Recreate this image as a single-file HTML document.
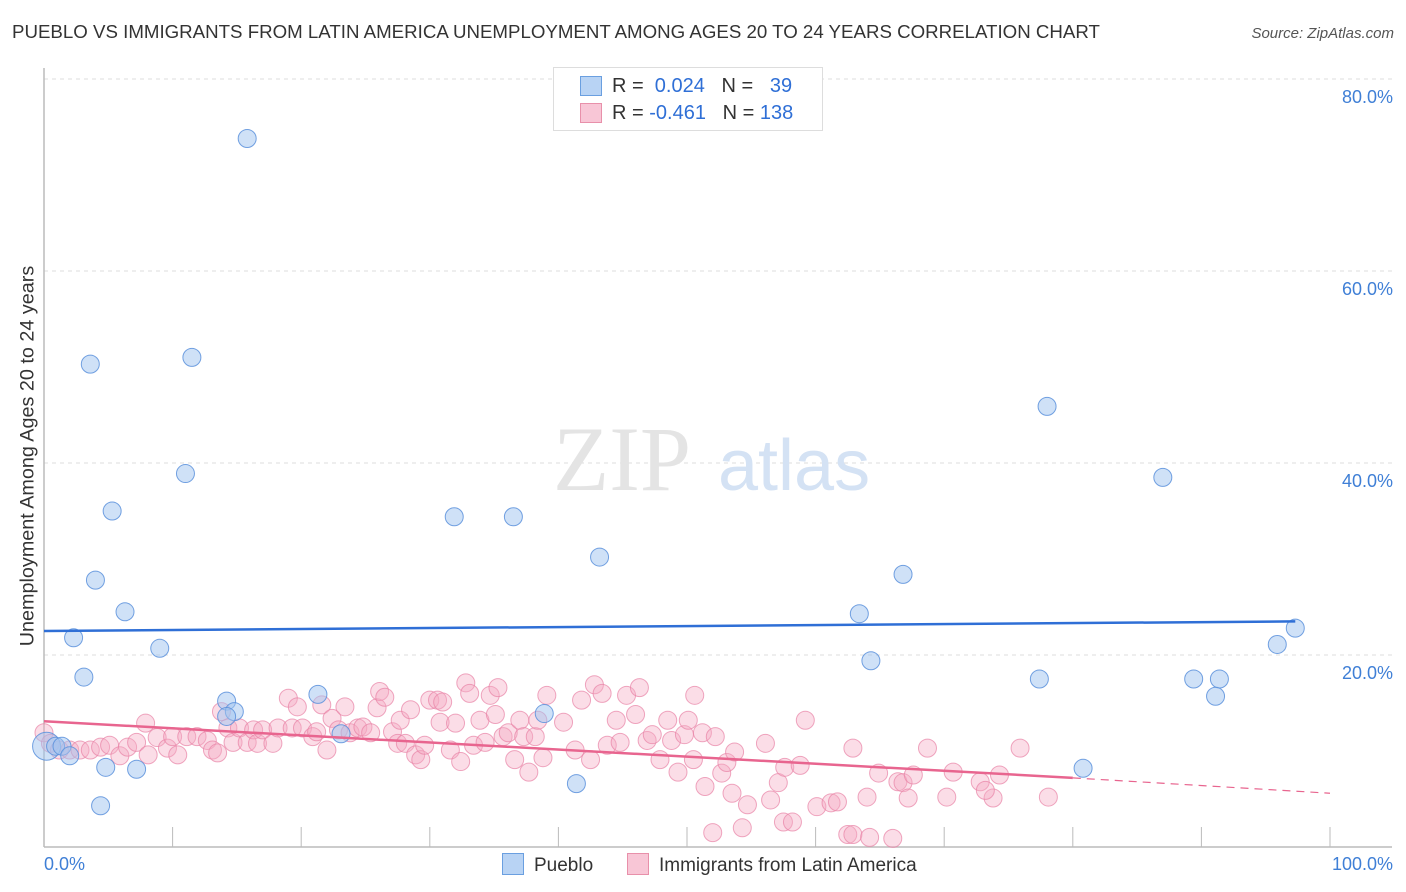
<!DOCTYPE html>
<html><head><meta charset="utf-8">
<style>
body{margin:0;background:#fff;font-family:"Liberation Sans",sans-serif;}
#wrap{position:relative;width:1406px;height:892px;overflow:hidden;}
.t{position:absolute;white-space:nowrap;}
</style></head>
<body>
<div id="wrap">
<div class="t" style="left:12px;top:21px;font-size:18.7px;color:#333;">PUEBLO VS IMMIGRANTS FROM LATIN AMERICA UNEMPLOYMENT AMONG AGES 20 TO 24 YEARS CORRELATION CHART</div>
<div class="t" style="right:12px;top:25px;font-size:15px;color:#555;font-style:italic;">Source: ZipAtlas.com</div>
<div class="t" style="left:28px;top:456px;font-size:19.8px;color:#333;transform:translate(-50%,-50%) rotate(-90deg);">Unemployment Among Ages 20 to 24 years</div>
<svg id="svg" width="1406" height="892" style="position:absolute;left:0;top:0"></svg>
</div>
<script>
const blueX=[0.2,0.9,1.4,2.0,3.6,4.0,3.1,2.3,5.3,6.3,4.8,7.2,4.4,9.0,11.5,11.0,15.8,14.2,14.8,14.2,21.3,23.1,31.9,36.5,38.9,41.4,43.2,63.4,64.3,66.8,78.0,77.4,80.8,87.0,89.4,91.4,91.1,95.9,97.3];
const blueY=[10.5,10.5,10.5,9.5,50.3,27.8,17.7,21.8,35.0,24.5,8.3,8.1,4.3,20.7,51.0,38.9,73.8,15.2,14.1,13.6,15.9,11.8,34.4,34.4,13.9,6.6,30.2,24.3,19.4,28.4,45.9,17.5,8.2,38.5,17.5,17.5,15.7,21.1,22.8];
const pinkX=[0,0.5,1.2,2.0,2.8,3.6,4.4,5.1,5.9,6.5,7.2,7.9,8.1,8.8,9.6,10.0,10.4,11.1,11.9,12.7,13.1,13.5,13.8,14.3,14.7,15.2,15.8,16.3,16.6,17.0,17.8,18.2,19.0,19.3,19.7,20.1,20.9,21.2,21.6,22.0,22.4,22.9,23.4,23.8,24.4,24.8,25.4,25.9,26.1,26.5,27.1,27.5,27.7,28.1,28.5,28.9,29.3,29.6,30.0,30.6,31.0,30.8,31.6,32.0,32.4,32.8,33.1,33.4,33.9,34.3,34.7,35.1,35.3,35.7,36.1,36.6,37.0,37.3,37.7,38.2,38.4,38.8,39.1,40.4,41.3,41.8,42.5,42.8,43.4,43.8,44.5,44.8,45.3,46.0,46.3,46.9,47.3,47.9,48.5,48.8,49.3,49.8,50.1,50.5,50.6,51.2,51.4,52.0,52.2,52.7,53.1,53.5,53.7,54.3,54.7,56.1,56.5,57.1,57.5,57.6,58.2,58.8,59.2,60.1,61.2,61.7,62.5,62.9,62.9,64.0,64.2,64.9,66.0,66.4,66.8,67.2,67.6,68.7,70.2,75.9,72.8,73.8,74.3,78.1,70.7,73.2];
const pinkY=[11.9,10.8,10.1,10.1,10.1,10.1,10.4,10.6,9.5,10.4,10.9,12.9,9.6,11.4,10.3,11.5,9.6,11.5,11.5,11.1,10.1,9.8,14.1,12.4,10.9,12.4,10.9,12.2,10.8,12.2,10.8,12.4,15.5,12.4,14.6,12.4,11.5,12.0,14.8,10.1,13.4,12.2,14.6,11.9,12.4,12.5,11.9,14.5,16.2,15.6,12.0,10.8,13.2,10.8,14.3,9.6,9.1,10.6,15.3,15.3,15.1,13.0,10.1,12.9,8.9,17.1,16.0,10.6,13.2,10.9,15.8,13.8,16.6,11.5,11.9,9.1,13.2,11.5,7.8,11.5,13.2,9.3,15.8,13.0,10.1,15.3,9.1,16.9,16.0,10.6,13.2,10.9,15.8,13.8,16.6,11.1,11.7,9.1,13.2,11.1,7.8,11.7,13.2,9.1,15.8,11.9,6.3,1.5,11.5,7.7,8.8,5.6,9.9,2.0,4.4,10.8,4.9,6.7,2.6,8.3,2.6,8.5,13.2,4.2,4.6,4.7,1.3,10.3,1.3,5.2,1.0,7.7,0.9,6.8,6.7,5.1,7.5,10.3,5.2,10.3,6.8,5.1,7.5,5.2,7.8,5.9];
const yTicks=[20,40,60,80];
const yTickLabels=["20.0%","40.0%","60.0%","80.0%"];
const blueTrend=[22.5,23.5];
const pinkTrend=[13.1,7.2,5.6];

const NS="http://www.w3.org/2000/svg";
const svg=document.getElementById('svg');
const X=v=>44+v*12.86;
const Y=v=>847-v*9.6;
function el(tag,attrs,parent){const e=document.createElementNS(NS,tag);for(const k in attrs)e.setAttribute(k,attrs[k]);(parent||svg).appendChild(e);return e;}

yTicks.forEach((t,i)=>{
  const g=el('line',{x1:44,x2:1392,y1:Y(t),y2:Y(t),stroke:'#dcdcdc','stroke-dasharray':'4,4'});
  
  
  const tx=el('text',{x:1393,y:Y(t)+24,'text-anchor':'end','font-size':18,fill:'#3f7fd6','font-family':'Liberation Sans'});
  tx.textContent=yTickLabels[i];
  
  
});
const ax=el('line',{x1:44,x2:1392,y1:847,y2:847,stroke:'#bbb','stroke-width':1.5});


const ay=el('line',{x1:44,x2:44,y1:68,y2:847,stroke:'#bbb','stroke-width':1.5});


for(let i=1;i<=10;i++){
  const tk=el('line',{x1:X(i*10),x2:X(i*10),y1:827,y2:847,stroke:'#bbb'});
  
  
}
['0.0%','100.0%'].forEach((s,i)=>{
  const t=el('text',{x:i?1393:44,y:870,'text-anchor':i?'end':'start','font-size':18,fill:'#3f7fd6','font-family':'Liberation Sans'});
  t.textContent=s;
  
  
});
const wm=el('text',{x:553,y:490,'font-size':92,fill:'#e4e4e4','font-family':'Liberation Serif'});
wm.textContent='ZIP';


const wm2=el('text',{x:718,y:490,'font-size':72,fill:'#d4e2f4','font-family':'Liberation Sans'});
wm2.textContent='atlas';



pinkX.forEach((x,i)=>{
  const c=el('circle',{cx:X(x),cy:Y(pinkY[i]),r:9,fill:'rgba(246,170,195,0.4)',stroke:'rgba(232,130,165,0.7)','stroke-width':1});
  
  
});
blueX.forEach((x,i)=>{
  const c=el('circle',{cx:X(x),cy:Y(blueY[i]),r:i==0?14:9,fill:'rgba(160,196,240,0.5)',stroke:'rgba(90,145,220,0.85)','stroke-width':1});
  
  
});
const bt=el('line',{x1:X(0),x2:X(97.3),y1:Y(blueTrend[0]),y2:Y(blueTrend[1]),stroke:'#2f6fd6','stroke-width':2.5});


const pt=el('line',{x1:X(0),x2:X(80),y1:Y(pinkTrend[0]),y2:Y(pinkTrend[1]),stroke:'#e8658f','stroke-width':2.5});


const pd=el('line',{x1:X(80),x2:X(100),y1:Y(pinkTrend[1]),y2:Y(pinkTrend[2]),stroke:'#e8658f','stroke-width':1.2,'stroke-dasharray':'8,6'});


</script>
<div class="t" style="left:553px;top:67px;width:268px;height:62px;border:1px solid #ddd;background:#fff;font-size:20px;">
  <div style="position:absolute;left:26px;top:8px;width:20px;height:18px;background:#b8d3f4;border:1px solid #6a9fe0;"></div>
  <div style="position:absolute;left:58px;top:7px;color:#333;">R = <span style="color:#2f6fd6">&nbsp;0.024</span>&nbsp;&nbsp;&nbsp;N = <span style="color:#2f6fd6">&nbsp;&nbsp;39</span></div>
  <div style="position:absolute;left:26px;top:35px;width:20px;height:18px;background:#f8c6d6;border:1px solid #e890aa;"></div>
  <div style="position:absolute;left:58px;top:34px;color:#333;">R = <span style="color:#2f6fd6">-0.461</span>&nbsp;&nbsp;&nbsp;N = <span style="color:#2f6fd6">138</span></div>
</div>
<div class="t" style="left:502px;top:853px;font-size:19px;color:#333;">
  <span style="display:inline-block;width:20px;height:20px;background:#b8d3f4;border:1px solid #6a9fe0;vertical-align:-4px;margin-right:10px;"></span>Pueblo</div>
<div class="t" style="left:627px;top:853px;font-size:19px;color:#333;">
  <span style="display:inline-block;width:20px;height:20px;background:#f8c6d6;border:1px solid #e890aa;vertical-align:-4px;margin-right:10px;"></span>Immigrants from Latin America</div>
</body></html>
